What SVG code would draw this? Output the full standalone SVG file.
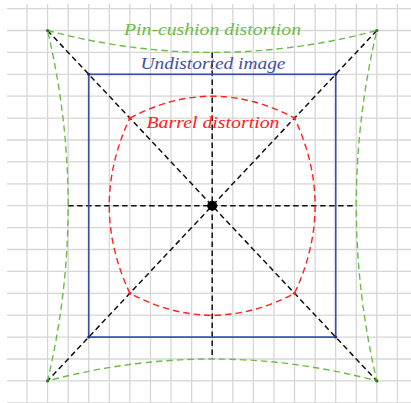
<svg xmlns="http://www.w3.org/2000/svg" width="411" height="403" viewBox="0 0 411 403">
<style>
.grid line{stroke:#d6d6d6;stroke-width:1.3}
.conn{fill:none;stroke:#111;stroke-width:1.5;stroke-dasharray:5.5,3.5}
.pin{fill:none;stroke:#6abd46;stroke-width:1.4;stroke-dasharray:6.5,4}
.und{fill:none;stroke:#3d50a8;stroke-width:1.7}
.bar{fill:none;stroke:#ff2020;stroke-width:1.4;stroke-dasharray:6.5,4}
.lbl{font-family:"Liberation Serif",serif;font-style:italic;font-size:17px;text-anchor:middle}
</style>
<rect width="411" height="403" fill="#ffffff"/>
<g class="grid">
<line x1="26.98" y1="4" x2="26.98" y2="403"/>
<line x1="47.56" y1="4" x2="47.56" y2="403"/>
<line x1="68.14" y1="4" x2="68.14" y2="403"/>
<line x1="88.72" y1="4" x2="88.72" y2="403"/>
<line x1="109.3" y1="4" x2="109.3" y2="403"/>
<line x1="129.88" y1="4" x2="129.88" y2="403"/>
<line x1="150.46" y1="4" x2="150.46" y2="403"/>
<line x1="171.04" y1="4" x2="171.04" y2="403"/>
<line x1="191.62" y1="4" x2="191.62" y2="403"/>
<line x1="212.2" y1="4" x2="212.2" y2="403"/>
<line x1="232.78" y1="4" x2="232.78" y2="403"/>
<line x1="253.36" y1="4" x2="253.36" y2="403"/>
<line x1="273.94" y1="4" x2="273.94" y2="403"/>
<line x1="294.52" y1="4" x2="294.52" y2="403"/>
<line x1="315.1" y1="4" x2="315.1" y2="403"/>
<line x1="335.68" y1="4" x2="335.68" y2="403"/>
<line x1="356.26" y1="4" x2="356.26" y2="403"/>
<line x1="376.84" y1="4" x2="376.84" y2="403"/>
<line x1="397.42" y1="4" x2="397.42" y2="403"/>
<line x1="7" y1="8.6" x2="411" y2="8.6"/>
<line x1="7" y1="30.5" x2="411" y2="30.5"/>
<line x1="7" y1="52.4" x2="411" y2="52.4"/>
<line x1="7" y1="74.3" x2="411" y2="74.3"/>
<line x1="7" y1="96.2" x2="411" y2="96.2"/>
<line x1="7" y1="118.1" x2="411" y2="118.1"/>
<line x1="7" y1="140" x2="411" y2="140"/>
<line x1="7" y1="161.9" x2="411" y2="161.9"/>
<line x1="7" y1="183.8" x2="411" y2="183.8"/>
<line x1="7" y1="205.7" x2="411" y2="205.7"/>
<line x1="7" y1="227.6" x2="411" y2="227.6"/>
<line x1="7" y1="249.5" x2="411" y2="249.5"/>
<line x1="7" y1="271.4" x2="411" y2="271.4"/>
<line x1="7" y1="293.3" x2="411" y2="293.3"/>
<line x1="7" y1="315.2" x2="411" y2="315.2"/>
<line x1="7" y1="337.1" x2="411" y2="337.1"/>
<line x1="7" y1="359" x2="411" y2="359"/>
<line x1="7" y1="380.9" x2="411" y2="380.9"/>
<line x1="7" y1="402.8" x2="411" y2="402.8"/>
</g>
<g id="connectors">
<line class="conn" x1="47.56" y1="30.5" x2="376.84" y2="380.9"/>
<line class="conn" x1="376.84" y1="30.5" x2="47.56" y2="380.9"/>
<line class="conn" x1="68.14" y1="205.7" x2="356.26" y2="205.7"/>
<line class="conn" x1="212.2" y1="52.4" x2="212.2" y2="359"/>
</g>
<g id="pincushion">
<path class="pin" d="M47.56,30.5 Q212.2,74.3 376.84,30.5 Q335.68,205.7 376.84,380.9 Q212.2,337.1 47.56,380.9 Q88.72,205.7 47.56,30.5 Z"/>
<text class="lbl" x="212.5" y="34.5" fill="#6abd46" textLength="177" lengthAdjust="spacingAndGlyphs">Pin-cushion distortion</text>
</g>
<g id="undistorted">
<rect class="und" x="88.72" y="74.3" width="246.96" height="262.8"/>
<text class="lbl" x="213" y="69" fill="#3d50a8" textLength="145" lengthAdjust="spacingAndGlyphs">Undistorted image</text>
</g>
<g id="barrel">
<path class="bar" d="M129.88,118.1 Q212.2,74.3 294.52,118.1 Q335.68,205.7 294.52,293.3 Q212.2,337.1 129.88,293.3 Q88.72,205.7 129.88,118.1 Z"/>
<text class="lbl" x="213" y="127.5" fill="#ff2020" textLength="133" lengthAdjust="spacingAndGlyphs">Barrel distortion</text>
</g>
<g id="corners">
<circle cx="47.56" cy="30.5" r="1.6" fill="#2e7a1e"/>
<circle cx="376.84" cy="30.5" r="1.6" fill="#2e7a1e"/>
<circle cx="47.56" cy="380.9" r="1.6" fill="#2e7a1e"/>
<circle cx="376.84" cy="380.9" r="1.6" fill="#2e7a1e"/>
<circle cx="88.72" cy="74.3" r="1.5" fill="#1d2a66"/>
<circle cx="335.68" cy="74.3" r="1.5" fill="#1d2a66"/>
<circle cx="88.72" cy="337.1" r="1.5" fill="#1d2a66"/>
<circle cx="335.68" cy="337.1" r="1.5" fill="#1d2a66"/>
<circle cx="129.88" cy="118.1" r="1.6" fill="#ff2020"/>
<circle cx="294.52" cy="118.1" r="1.6" fill="#ff2020"/>
<circle cx="129.88" cy="293.3" r="1.6" fill="#ff2020"/>
<circle cx="294.52" cy="293.3" r="1.6" fill="#ff2020"/>
</g>
<g id="center">
<circle cx="212.2" cy="205.7" r="5" fill="#000"/>
</g>
</svg>
